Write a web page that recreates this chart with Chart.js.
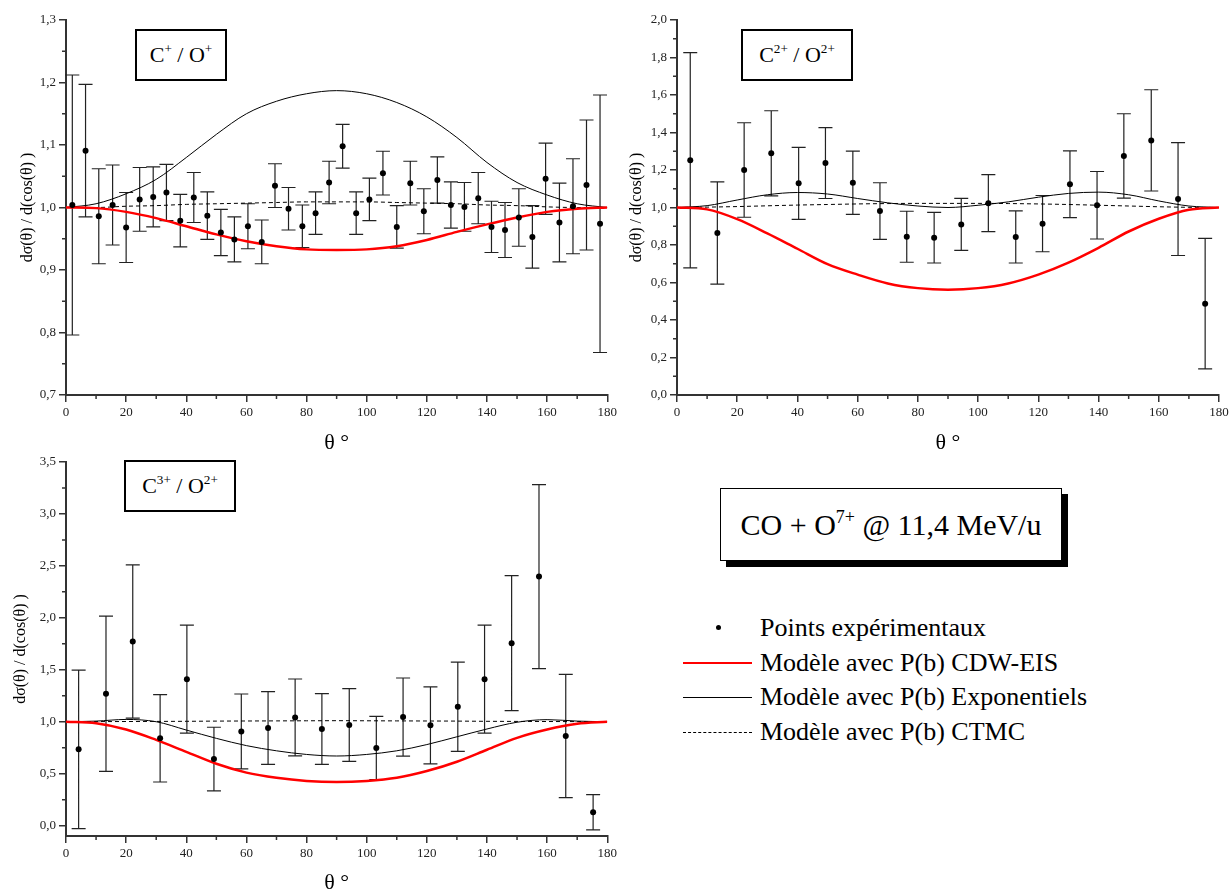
<!DOCTYPE html>
<html>
<head>
<meta charset="utf-8">
<script src="https://cdn.jsdelivr.net/npm/chart.js@4.4.1/dist/chart.umd.min.js"></script>
<style>
  body { margin: 0; background: #fff; font-family: 'Liberation Serif', 'Times New Roman', serif; color: #000; }
  #page { position: relative; width: 1232px; height: 894px; overflow: hidden; }
  canvas { position: absolute; }
  .tag { position: absolute; border: 2px solid #000; background: #fff; box-sizing: border-box;
         display: flex; align-items: center; justify-content: center; font-size: 22px; white-space: nowrap; }
  sup { font-size: 0.6em; vertical-align: 0.65em; line-height: 0; }
  #title { position: absolute; left: 720px; top: 488px; width: 342px; height: 73px; box-sizing: border-box;
           border: 1.5px solid #000; background: #fff; box-shadow: 6px 6px 0 #000;
           display: flex; align-items: center; justify-content: center; font-size: 30px; white-space: nowrap; }
  #legend { position: absolute; left: 683px; top: 611px; font-size: 26px; }
  .row { height: 34.5px; line-height: 34.5px; white-space: nowrap; display: flex; align-items: center; }
  .sample { width: 69px; height: 34.5px; margin-right: 8px; position: relative; }
  .sample i { position: absolute; left: 0; right: 0; top: 50%; }
</style>
</head>
<body>
<div id="page">
  <canvas id="c1" width="620" height="460" style="left:0;top:0"></canvas>
  <canvas id="c2" width="612" height="460" style="left:620px;top:0"></canvas>
  <canvas id="c3" width="620" height="474" style="left:0;top:420px"></canvas>

  <div class="tag" style="left:135px;top:29px;width:92px;height:52px"><span>C<sup>+</sup> / O<sup>+</sup></span></div>
  <div class="tag" style="left:741px;top:29px;width:112px;height:52px"><span>C<sup>2+</sup> / O<sup>2+</sup></span></div>
  <div class="tag" style="left:124px;top:460px;width:112px;height:52px"><span>C<sup>3+</sup> / O<sup>2+</sup></span></div>

  <div id="title"><span>CO + O<sup>7+</sup> @ 11,4 MeV/u</span></div>

  <div id="legend">
    <div class="row"><span class="sample"><i style="left:33px;width:5px;height:5px;border-radius:50%;background:#000;margin-top:-3px"></i></span>Points expérimentaux</div>
    <div class="row"><span class="sample"><i style="border-top:2px solid #f00;margin-top:-1px"></i></span>Modèle avec P(b) CDW-EIS</div>
    <div class="row"><span class="sample"><i style="border-top:1px solid #000"></i></span>Modèle avec P(b) Exponentiels</div>
    <div class="row"><span class="sample"><i style="border-top:1px dashed #000"></i></span>Modèle avec P(b) CTMC</div>
  </div>
</div>

<script>
// axis ticks
const xTicks = [0, 20, 40, 60, 80, 100, 120, 140, 160, 180];
const xMinor = [10, 30, 50, 70, 90, 110, 130, 150, 170];
const yTicks1 = [0.7, 0.8, 0.9, 1.0, 1.1, 1.2, 1.3];
const yMinor1 = [0.75, 0.85, 0.95, 1.05, 1.15, 1.25];
const yTicks2 = [0.0, 0.2, 0.4, 0.6, 0.8, 1.0, 1.2, 1.4, 1.6, 1.8, 2.0];
const yMinor2 = [0.1, 0.3, 0.5, 0.7, 0.9, 1.1, 1.3, 1.5, 1.7, 1.9];
const yTicks3 = [0.0, 0.5, 1.0, 1.5, 2.0, 2.5, 3.0, 3.5];
const yMinor3 = [0.25, 0.75, 1.25, 1.75, 2.25, 2.75, 3.25];

// C+ / O+ measured points
const theta1 = [2.1, 6.5, 10.9, 15.5, 20.0, 24.5, 29.0, 33.4, 38.0, 42.5, 47.0, 51.5, 56.0, 60.5, 65.1, 69.5, 74.0, 78.6, 83.0, 87.5,
                92.0, 96.5, 100.9, 105.4, 110.0, 114.5, 119.0, 123.5, 128.0, 132.5, 137.1, 141.5, 146.0, 150.6, 155.1, 159.5, 164.1, 168.6, 173.1, 177.6];
const values1 = [1.004, 1.091, 0.986, 1.004, 0.968, 1.013, 1.017, 1.024, 0.979, 1.016, 0.987, 0.960, 0.949, 0.970, 0.945, 1.035, 0.998, 0.970, 0.991, 1.040,
                 1.098, 0.991, 1.013, 1.055, 0.969, 1.039, 0.994, 1.044, 1.004, 1.001, 1.015, 0.969, 0.964, 0.984, 0.953, 1.046, 0.976, 1.002, 1.036, 0.974];
const errors1 = [0.208, 0.106, 0.076, 0.064, 0.056, 0.051, 0.048, 0.045, 0.042, 0.040, 0.038, 0.037, 0.036, 0.036, 0.035, 0.035, 0.034, 0.034, 0.034, 0.034,
                 0.035, 0.034, 0.034, 0.035, 0.034, 0.035, 0.036, 0.037, 0.037, 0.039, 0.041, 0.041, 0.044, 0.046, 0.050, 0.057, 0.063, 0.076, 0.104, 0.206];

// C2+ / O2+ measured points
const theta2 = [4.4, 13.4, 22.3, 31.3, 40.4, 49.3, 58.4, 67.4, 76.3, 85.4, 94.4, 103.4, 112.5, 121.4, 130.5, 139.5, 148.4, 157.5, 166.4, 175.4];
const values2 = [1.252, 0.864, 1.200, 1.289, 1.129, 1.237, 1.132, 0.981, 0.844, 0.839, 0.910, 1.023, 0.843, 0.914, 1.124, 1.012, 1.275, 1.358, 1.045, 0.487];
const errors2 = [0.574, 0.273, 0.252, 0.227, 0.192, 0.189, 0.169, 0.151, 0.136, 0.135, 0.139, 0.152, 0.139, 0.150, 0.178, 0.180, 0.225, 0.270, 0.301, 0.348];

// C3+ / O2+ measured points
const theta3 = [4.2, 13.3, 22.2, 31.3, 40.2, 49.2, 58.3, 67.2, 76.2, 85.1, 94.2, 103.2, 112.1, 121.2, 130.3, 139.2, 148.2, 157.3, 166.2, 175.3];
const values3 = [0.734, 1.269, 1.772, 0.840, 1.410, 0.641, 0.907, 0.939, 1.041, 0.930, 0.968, 0.747, 1.045, 0.965, 1.144, 1.410, 1.756, 2.397, 0.862, 0.128];
const errors3 = [0.763, 0.747, 0.737, 0.420, 0.520, 0.306, 0.360, 0.350, 0.370, 0.340, 0.350, 0.305, 0.376, 0.370, 0.430, 0.520, 0.650, 0.886, 0.593, 0.170];

// model curves, read every 10 degrees
const modelTheta = [0, 10, 20, 30, 40, 50, 60, 70, 80, 90, 100, 110, 120, 130, 140, 150, 160, 170, 180];
const cdw1 = [1.000, 0.999, 0.993, 0.983, 0.970, 0.957, 0.946, 0.938, 0.933, 0.932, 0.933, 0.938, 0.948, 0.961, 0.973, 0.984, 0.993, 0.998, 1.000];
const expo1 = [1.000, 1.006, 1.022, 1.045, 1.080, 1.117, 1.150, 1.170, 1.182, 1.187, 1.182, 1.168, 1.145, 1.112, 1.072, 1.040, 1.020, 1.006, 1.000];
const ctmc1 = [1.000, 1.000, 1.002, 1.003, 1.005, 1.006, 1.007, 1.008, 1.009, 1.009, 1.009, 1.008, 1.007, 1.006, 1.004, 1.003, 1.001, 1.000, 1.000];
const cdw2 = [1.000, 0.990, 0.938, 0.862, 0.780, 0.698, 0.642, 0.595, 0.570, 0.562, 0.570, 0.595, 0.642, 0.706, 0.785, 0.872, 0.940, 0.988, 1.000];
const expo2 = [1.000, 1.010, 1.040, 1.068, 1.080, 1.072, 1.048, 1.025, 1.008, 1.000, 1.012, 1.030, 1.055, 1.075, 1.082, 1.068, 1.035, 1.008, 1.000];
const ctmc2 = [1.000, 1.002, 1.005, 1.009, 1.013, 1.016, 1.019, 1.021, 1.022, 1.022, 1.022, 1.021, 1.019, 1.016, 1.012, 1.008, 1.004, 1.001, 1.000];
const cdw3 = [1.000, 0.985, 0.925, 0.825, 0.710, 0.595, 0.510, 0.460, 0.430, 0.420, 0.430, 0.460, 0.525, 0.615, 0.730, 0.845, 0.925, 0.980, 1.000];
const expo3 = [1.000, 1.006, 1.022, 1.000, 0.920, 0.840, 0.770, 0.720, 0.685, 0.670, 0.685, 0.720, 0.780, 0.855, 0.930, 0.995, 1.020, 1.006, 1.000];
const ctmc3 = [1.000, 1.001, 1.002, 1.003, 1.004, 1.006, 1.007, 1.008, 1.009, 1.010, 1.009, 1.008, 1.007, 1.006, 1.004, 1.003, 1.002, 1.001, 1.000];

Chart.defaults.font.family = "'Liberation Serif', 'Times New Roman', serif";
Chart.defaults.color = '#222';

const errorBars = {
  id: 'errorBars',
  beforeDatasetsDraw(chart) {
    const { ctx, scales: { x, y } } = chart;
    chart.data.datasets.forEach(ds => {
      if (!ds.errors) return;
      ctx.save();
      ctx.strokeStyle = '#222';
      ctx.lineWidth = 1.2;
      ctx.beginPath();
      ds.data.forEach((p, i) => {
        const px = x.getPixelForValue(p.x);
        const top = y.getPixelForValue(p.y + ds.errors[i]);
        const bot = y.getPixelForValue(p.y - ds.errors[i]);
        ctx.moveTo(px, top); ctx.lineTo(px, bot);
        ctx.moveTo(px - 7, top); ctx.lineTo(px + 7, top);
        ctx.moveTo(px - 7, bot); ctx.lineTo(px + 7, bot);
      });
      ctx.stroke();
      ctx.restore();
    });
  }
};

const minorTicks = {
  id: 'minorTicks',
  afterDraw(chart, args, opts) {
    const { ctx, chartArea: a, scales: { x, y } } = chart;
    ctx.save();
    ctx.strokeStyle = '#333';
    ctx.lineWidth = 1.5;
    ctx.beginPath();
    opts.x.forEach(v => { const px = x.getPixelForValue(v); ctx.moveTo(px, a.bottom); ctx.lineTo(px, a.bottom + 4); });
    opts.y.forEach(v => { const py = y.getPixelForValue(v); ctx.moveTo(a.left - 4, py); ctx.lineTo(a.left, py); });
    ctx.stroke();
    ctx.restore();
  }
};

function pts(xs, ys) {
  return xs.map((x, i) => ({ x: x, y: ys[i] }));
}

function buildChart(id, p) {
  const grid = { drawOnChartArea: false, drawTicks: true, tickLength: 7, color: '#333', lineWidth: 1.5 };
  const border = { display: true, color: '#333', width: 2 };
  new Chart(document.getElementById(id), {
    type: 'scatter',
    data: {
      datasets: [
        { label: 'Points expérimentaux', data: pts(p.theta, p.values), errors: p.errors,
          pointRadius: 3, backgroundColor: '#000', borderWidth: 0 },
        { label: 'Modèle avec P(b) CDW-EIS', data: pts(modelTheta, p.cdw), showLine: true,
          borderColor: '#f00', borderWidth: 2.5, pointRadius: 0, cubicInterpolationMode: 'monotone' },
        { label: 'Modèle avec P(b) Exponentiels', data: pts(modelTheta, p.expo), showLine: true,
          borderColor: '#000', borderWidth: 1, pointRadius: 0, cubicInterpolationMode: 'monotone' },
        { label: 'Modèle avec P(b) CTMC', data: pts(modelTheta, p.ctmc), showLine: true,
          borderColor: '#000', borderWidth: 1, borderDash: [4, 3], pointRadius: 0, cubicInterpolationMode: 'monotone' }
      ]
    },
    options: {
      responsive: false,
      animation: false,
      layout: { padding: p.pad },
      plugins: {
        legend: { display: false },
        tooltip: { enabled: false },
        minorTicks: { x: xMinor, y: p.yMinor }
      },
      scales: {
        x: {
          type: 'linear', min: 0, max: 180,
          afterBuildTicks: s => { s.ticks = xTicks.map(v => ({ value: v })); },
          afterFit: s => { s.height = p.xAxisH; },
          ticks: { callback: v => String(v), padding: 3, maxRotation: 0, font: { size: 13 } },
          grid: grid, border: border,
          title: { display: true, text: 'θ °', color: '#000', font: { size: 22, lineHeight: 1 },
                   padding: { top: 0, bottom: p.xTitlePad } }
        },
        y: {
          type: 'linear', min: p.yMin, max: p.yMax,
          afterBuildTicks: s => { s.ticks = p.yTicks.map(v => ({ value: v })); },
          afterFit: s => { s.width = p.yAxisW; },
          ticks: { callback: v => v.toFixed(1).replace('.', ','), padding: 3, font: { size: 13 } },
          grid: grid, border: border,
          title: { display: true, text: 'dσ(θ) / d(cos(θ) )', color: '#000', font: { size: 16, lineHeight: 1.2 },
                   padding: { top: p.yTitlePad, bottom: 0 } }
        }
      }
    },
    plugins: [errorBars, minorTicks]
  });
}

buildChart('c1', {
  theta: theta1, values: values1, errors: errors1, cdw: cdw1, expo: expo1, ctmc: ctmc1,
  yMin: 0.7, yMax: 1.3, yTicks: yTicks1, yMinor: yMinor1,
  pad: { left: 0, right: 11, top: 20, bottom: 0 }, yAxisW: 66, xAxisH: 65, xTitlePad: 6, yTitlePad: 18
});
buildChart('c2', {
  theta: theta2, values: values2, errors: errors2, cdw: cdw2, expo: expo2, ctmc: ctmc2,
  yMin: 0.0, yMax: 2.0, yTicks: yTicks2, yMinor: yMinor2,
  pad: { left: 0, right: 13, top: 20, bottom: 0 }, yAxisW: 57, xAxisH: 65, xTitlePad: 6, yTitlePad: 7
});
buildChart('c3', {
  theta: theta3, values: values3, errors: errors3, cdw: cdw3, expo: expo3, ctmc: ctmc3,
  yMin: -0.1, yMax: 3.5, yTicks: yTicks3, yMinor: yMinor3,
  pad: { left: 0, right: 11, top: 42, bottom: 0 }, yAxisW: 66, xAxisH: 58, xTitlePad: 0, yTitlePad: 11
});
</script>
</body>
</html>
